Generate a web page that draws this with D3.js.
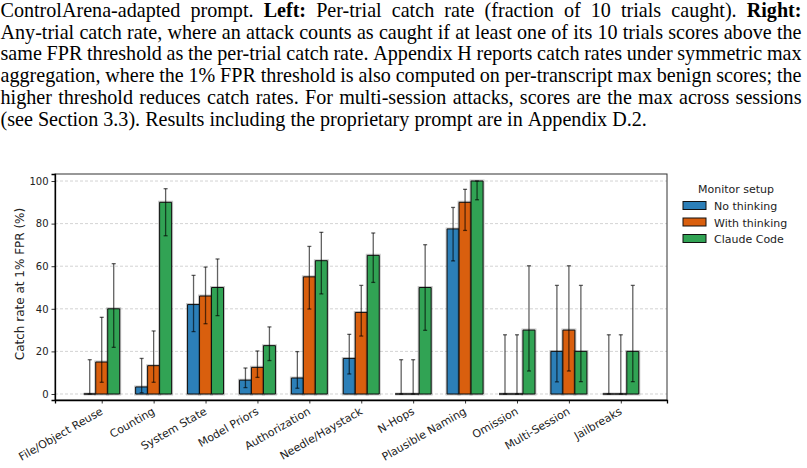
<!DOCTYPE html>
<html>
<head>
<meta charset="utf-8">
<script src="https://cdn.jsdelivr.net/npm/d3@7"></script>
<style>
  body { margin: 0; background: #fff; }
  svg { display: block; }
</style>
</head>
<body>
<div class="chart"></div>
<script>
// data
var categories = ["File/Object Reuse", "Counting", "System State", "Model Priors", "Authorization",
  "Needle/Haystack", "N-Hops", "Plausible Naming", "Omission", "Multi-Session", "Jailbreaks"];

var seriesNames = ["No thinking", "With thinking", "Claude Code"];

var noThinking   = [0, 3.3, 42, 6.5, 7.5, 16.7, 0, 77.5, 0, 20, 0];
var noThinkingLo = [0, 0.6, 29.3, 3, 2.7, 9.4, 0, 62.5, 0, 5.7, 0];
var noThinkingHi = [16.1, 16.7, 55.7, 12.2, 19.9, 28, 16.1, 87.6, 27.8, 51, 27.8];

var withThinking   = [15, 13.3, 46, 12.5, 55, 38.3, 0, 90, 0, 30, 0];
var withThinkingLo = [5.5, 5.5, 33, 7.8, 39.9, 27.2, 0, 76.8, 0, 10.8, 0];
var withThinkingHi = [36, 29.6, 59.6, 20.2, 69.3, 51, 16.1, 96.1, 27.8, 60.2, 27.8];

var claudeCode   = [40, 90, 50, 22.7, 62.6, 65.1, 50, 100, 30, 20, 20];
var claudeCodeLo = [21.9, 74.3, 36.8, 15.7, 47, 52.4, 29.9, 91.2, 10.8, 5.8, 5.8];
var claudeCodeHi = [61.2, 96.4, 63.4, 31.5, 75.9, 75.6, 70.1, 100, 60.2, 51, 51];

var yTicks = [0, 20, 40, 60, 80, 100];

var captionLines = [
  [["ControlArena-adapted prompt.", 0], ["Left:", 1], ["Per-trial catch rate (fraction of 10 trials caught).", 0], ["Right:", 1]],
  [["Any-trial catch rate, where an attack counts as caught if at least one of its 10 trials scores above the", 0]],
  [["same FPR threshold as the per-trial catch rate. Appendix H reports catch rates under symmetric max", 0]],
  [["aggregation, where the 1% FPR threshold is also computed on per-transcript max benign scores; the", 0]],
  [["higher threshold reduces catch rates. For multi-session attacks, scores are the max across sessions", 0]],
  [["(see Section 3.3). Results including the proprietary prompt are in Appendix D.2.", 0]]
];

var colors = ["#2c7fb8", "#d95f0e", "#31a354"];

var svgWidth = 807;
var svgHeight = 468;

var margin = { top: 174, right: 140, bottom: 68, left: 55 };
var width = svgWidth - margin.left - margin.right;
var height = svgHeight - margin.top - margin.bottom;

var svg = d3.select(".chart")
  .append("svg")
  .attr("width", svgWidth)
  .attr("height", svgHeight);

// ---- caption text (justified like the paper) ----
var capWidth = 801;
var lastLineEnd = 645;   // where the unjustified last line stops in the paper
var capGroup = svg.append("g")
  .attr("font-family", "'Liberation Serif', 'Times New Roman', serif")
  .attr("fill", "#000");

// find the font size that gives the paper's natural line width
var capSize = 18;
var probe = capGroup.append("text").text(captionLines[5][0][0]);
for (var k = 0; k < 4; k++) {
  probe.attr("font-size", capSize);
  capSize = capSize * lastLineEnd / probe.node().getComputedTextLength();
}
probe.remove();
capGroup.attr("font-size", capSize);

captionLines.forEach(function(line, li) {
  // split into words keeping bold flag
  var words = [];
  line.forEach(function(part) {
    part[0].split(" ").forEach(function(w) { words.push({ t: w, b: part[1] }); });
  });
  var texts = words.map(function(w) {
    return capGroup.append("text")
      .attr("y", 17 + li * 21.7)
      .attr("font-weight", w.b ? "bold" : "normal")
      .text(w.t);
  });
  var lens = texts.map(function(t) { return t.node().getComputedTextLength(); });
  var total = d3.sum(lens);
  var last = li === captionLines.length - 1;
  var gap = last ? capSize * 0.25 : (capWidth - total) / (words.length - 1);
  var x = 0.5;
  texts.forEach(function(t, i) {
    t.attr("x", x);
    x += lens[i] + gap;
  });
});

// ---- chart ----
var chartGroup = svg.append("g")
  .attr("transform", `translate(${margin.left}, ${margin.top})`);

var xScale = d3.scaleLinear()
  .domain([-0.9, categories.length - 1 + 0.89])
  .range([0, width]);

var yScale = d3.scaleLinear()
  .domain([-2.82, 103.3])
  .range([height, 0]);

var barW = xScale(0.231) - xScale(0);

// grid lines
chartGroup.append("g")
  .selectAll("line")
  .data(yTicks)
  .enter()
  .append("line")
  .attr("x1", 0)
  .attr("x2", width)
  .attr("y1", d => yScale(d))
  .attr("y2", d => yScale(d))
  .attr("stroke", "#c8c8c8")
  .attr("stroke-width", 0.8)
  .attr("stroke-dasharray", "3,2");

var series = [
  { vals: noThinking, lo: noThinkingLo, hi: noThinkingHi },
  { vals: withThinking, lo: withThinkingLo, hi: withThinkingHi },
  { vals: claudeCode, lo: claudeCodeLo, hi: claudeCodeHi }
];

series.forEach(function(s, si) {
  var rows = categories.map(function(c, i) {
    return { i: i, v: s.vals[i], lo: s.lo[i], hi: s.hi[i] };
  });
  var g = chartGroup.append("g");
  var bx = d => xScale(d.i) + (si - 1) * barW - barW / 2;
  var barPath = function(d) {
    var x0 = bx(d), y0 = yScale(d.v), y1 = yScale(0);
    return `M${x0},${y1}V${y0}H${x0 + barW}V${y1}Z`;
  };
  // soft grey halo under the edge
  g.selectAll("path.halo")
    .data(rows)
    .enter()
    .append("path")
    .attr("class", "halo")
    .attr("d", barPath)
    .attr("fill", "none")
    .attr("stroke", "#000")
    .attr("stroke-opacity", 0.22)
    .attr("stroke-width", 3);
  g.selectAll("path.bar")
    .data(rows)
    .enter()
    .append("path")
    .attr("class", "bar")
    .attr("d", barPath)
    .attr("fill", colors[si])
    .attr("stroke", "#111")
    .attr("stroke-width", 1);
});

// error bars on top
series.forEach(function(s, si) {
  var rows = categories.map(function(c, i) {
    return { i: i, lo: s.lo[i], hi: s.hi[i] };
  });
  var g = chartGroup.append("g")
    .attr("stroke", "#000")
    .attr("stroke-opacity", 0.62)
    .attr("stroke-width", 1.3);
  var cx = d => xScale(d.i) + (si - 1) * barW;
  g.selectAll("line.v")
    .data(rows)
    .enter()
    .append("line")
    .attr("x1", cx).attr("x2", cx)
    .attr("y1", d => yScale(d.lo))
    .attr("y2", d => yScale(d.hi));
  ["lo", "hi"].forEach(function(k) {
    g.selectAll("line." + k)
      .data(rows)
      .enter()
      .append("line")
      .attr("x1", d => cx(d) - 2).attr("x2", d => cx(d) + 2)
      .attr("y1", d => yScale(d[k]))
      .attr("y2", d => yScale(d[k]));
  });
});

// axes frame
chartGroup.append("rect")
  .attr("x", 0).attr("y", 0)
  .attr("width", width).attr("height", height)
  .attr("fill", "none")
  .attr("stroke", "#333")
  .attr("stroke-width", 1);

var leftAxis = d3.axisLeft(yScale).tickValues(yTicks).tickSize(3.5).tickPadding(3);
var yAxis = chartGroup.append("g").call(leftAxis);

var bottomAxis = d3.axisBottom(xScale)
  .tickValues(d3.range(categories.length))
  .tickSize(3.5)
  .tickFormat("");
var xAxis = chartGroup.append("g")
  .attr("transform", `translate(0, ${height})`)
  .call(bottomAxis);

[yAxis, xAxis].forEach(function(a) {
  a.select(".domain").attr("stroke", "#000").attr("stroke-width", 1.3);
  a.selectAll(".tick line").attr("stroke", "#000").attr("stroke-width", 0.8);
});
yAxis.selectAll(".tick text")
  .attr("font-family", "'DejaVu Sans', sans-serif")
  .attr("font-size", 10)
  .attr("fill", "#222");

// rotated category labels
chartGroup.append("g")
  .selectAll("text")
  .data(categories)
  .enter()
  .append("text")
  .attr("transform", (d, i) => `translate(${xScale(i) + 2}, ${height + 13.5}) rotate(-30)`)
  .attr("text-anchor", "end")
  .attr("font-family", "'DejaVu Sans', sans-serif")
  .attr("font-size", 11)
  .attr("fill", "#222")
  .text(d => d);

// y axis label
chartGroup.append("text")
  .attr("transform", "rotate(-90)")
  .attr("x", -height / 2 + 3)
  .attr("y", -31)
  .attr("text-anchor", "middle")
  .attr("font-family", "'DejaVu Sans', sans-serif")
  .attr("font-size", 12)
  .attr("fill", "#222")
  .text("Catch rate at 1% FPR (%)");

// legend
var legend = svg.append("g")
  .attr("font-family", "'DejaVu Sans', sans-serif")
  .attr("font-size", 11)
  .attr("fill", "#222");

legend.append("text")
  .attr("x", 736)
  .attr("y", 193)
  .attr("text-anchor", "middle")
  .text("Monitor setup");

var items = legend.selectAll("g.item")
  .data(seriesNames)
  .enter()
  .append("g")
  .attr("transform", (d, i) => `translate(683, ${201.5 + i * 16.5})`);

items.append("rect")
  .attr("width", 23)
  .attr("height", 8)
  .attr("fill", (d, i) => colors[i])
  .attr("stroke", "#111")
  .attr("stroke-width", 1);

items.append("text")
  .attr("x", 31)
  .attr("y", 8.5)
  .text(d => d);
</script>
</body>
</html>
